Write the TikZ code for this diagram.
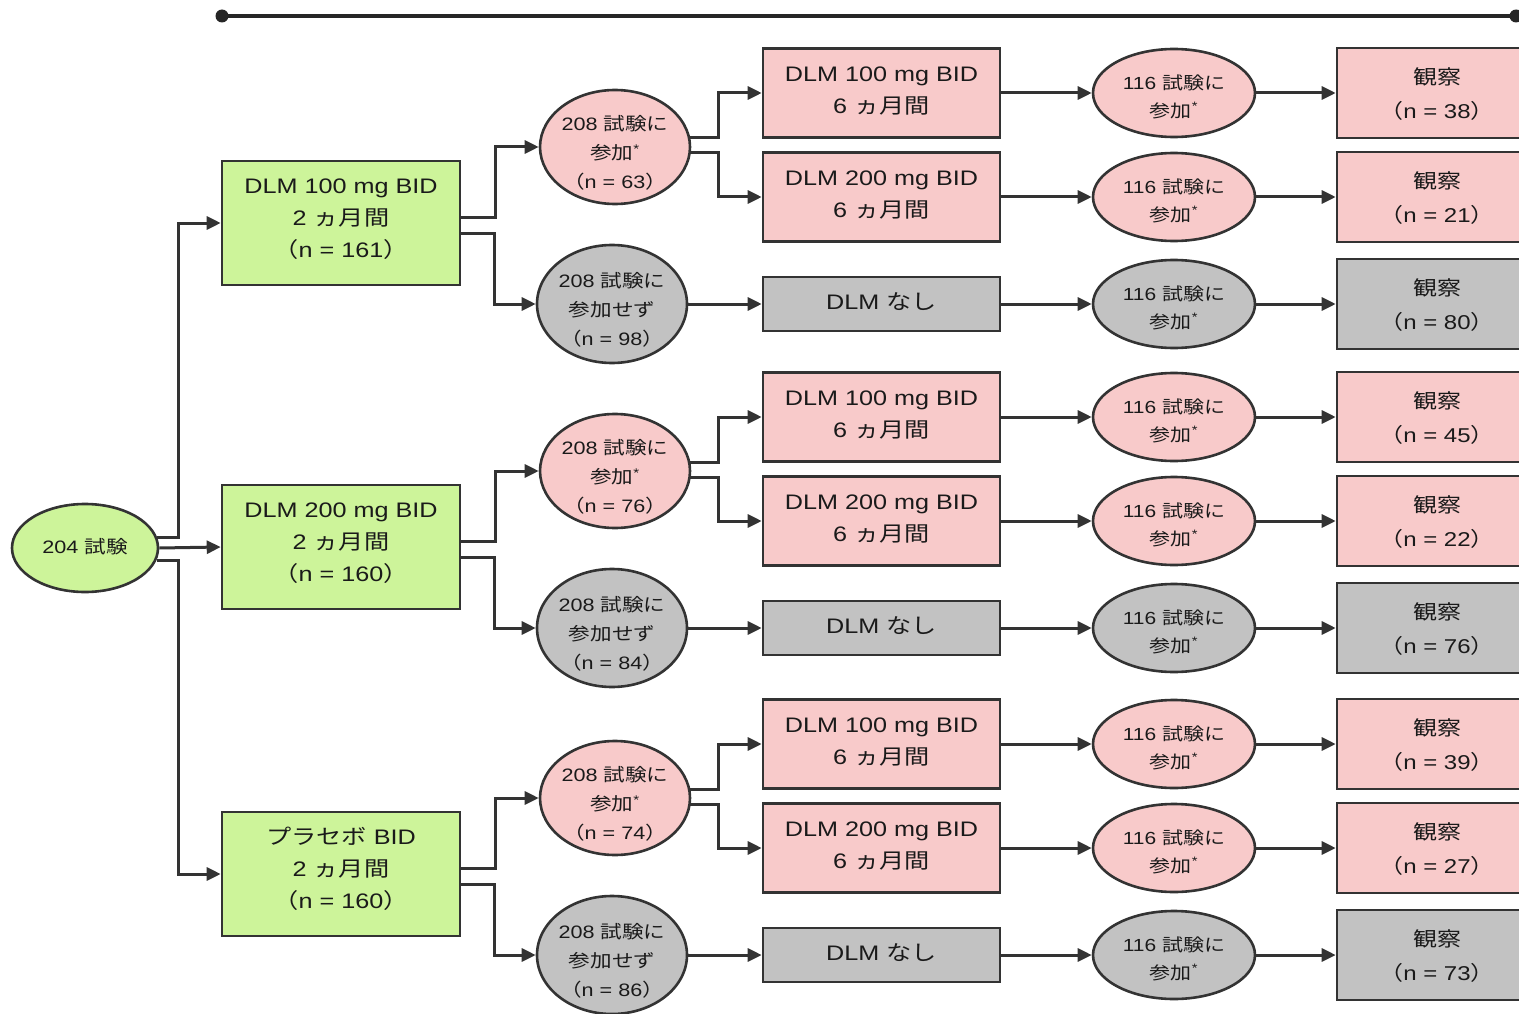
\documentclass[tikz,border=0pt]{standalone}
\usepackage{fontspec}
\setmainfont{Liberation Sans}[FakeStretch=1.2]
\newfontfamily\jp{Noto Sans CJK JP}[FakeStretch=1.2]
\usetikzlibrary{shapes.geometric,arrows.meta}
\definecolor{gfill}{HTML}{CDF49A}
\definecolor{pfill}{HTML}{F8CACA}
\definecolor{gyfill}{HTML}{C2C2C2}
\definecolor{edge}{HTML}{333333}
\definecolor{ink}{HTML}{1A1A1A}
\newcommand{\nt}[2][-0.25em]{\raisebox{#1}[0pt][0pt]{\makebox[0pt]{\begin{tabular}{@{}c@{}}#2\end{tabular}}}}
\newcommand{\lp}{{\jp （}}
\newcommand{\rp}{{\jp ）}}
\newcommand{\placebo}{{\jp プラセボ} BID}
\tikzset{
  base/.style={draw=edge, line width=2.6pt, inner sep=0pt, text=ink},
  gbox/.style={base, rectangle, fill=gfill, minimum width=238pt, minimum height=124pt, font=\fontsize{21}{32}\selectfont},
  startell/.style={base, ellipse, fill=gfill, minimum width=146pt, minimum height=88pt, font=\fontsize{18}{28}\selectfont},
  pell/.style={base, ellipse, fill=pfill, minimum width=150pt, minimum height=114pt, font=\fontsize{18}{29}\selectfont},
  qell/.style={base, ellipse, fill=gyfill, minimum width=150pt, minimum height=118pt, font=\fontsize{18}{29}\selectfont},
  dbox/.style={base, rectangle, fill=pfill, minimum width=237pt, minimum height=89pt, font=\fontsize{21}{32}\selectfont},
  nbox/.style={base, rectangle, fill=gyfill, minimum width=237pt, minimum height=54pt, font=\fontsize{21}{32}\selectfont},
  tell/.style={base, ellipse, minimum width=162pt, minimum height=88pt, font=\fontsize{17.5}{28}\selectfont},
  obox/.style={base, rectangle, minimum width=200pt, minimum height=90pt, font=\fontsize{20}{34}\selectfont},
  conn/.style={draw=edge, line width=3pt, -{Triangle[length=14pt,width=13pt]}},
}
\begin{document}
\begin{tikzpicture}[x=1pt,y=-1pt]
\useasboundingbox (0,0) rectangle (1519,1014);
\fill[white] (0,0) rectangle (1519,1014);
\clip (0,0) rectangle (1519,1014);

% top bar
\coordinate (barL) at (222,16);
\coordinate (barR) at (1516,16);
\draw[line width=3.8pt, black!85] (barL) -- (barR);
\fill[black!85] (barL) circle (6.5pt);
\fill[black!85] (barR) circle (6.5pt);

% start
\node[startell] (s) at (85,548) {\nt{204 {\jp 試験}}};

\foreach \i/\off/\ng/\gl/\np/\nq/\oa/\ob/\oc in {
  1/0/161/DLM 100 mg BID/63/98/38/21/80,
  2/324/160/DLM 200 mg BID/76/84/45/22/76,
  3/651/160/\placebo/74/86/39/27/73}{
  \node[gbox] (g\i) at (341,223+\off) {\nt[-0.07em]{\gl\\2 {\jp ヵ月間}\\\lp n = \ng\rp}};
  \node[pell] (p\i) at (615,147+\off) {\nt[-0.6em]{208 {\jp 試験に}\\{\jp 参加}\textsuperscript{*}\\\lp n = \np\rp}};
  \node[qell] (q\i) at (612,304+\off) {\nt[-0.62em]{208 {\jp 試験に}\\{\jp 参加せず}\\\lp n = \nq\rp}};
  \node[dbox] (a\i) at (881.5,93+\off) {\nt[-0.17em]{DLM 100 mg BID\\6 {\jp ヵ月間}}};
  \node[dbox] (b\i) at (881.5,197+\off) {\nt[-0.17em]{DLM 200 mg BID\\6 {\jp ヵ月間}}};
  \node[nbox] (c\i) at (881.5,304+\off) {\nt[-0.2em]{DLM {\jp なし}}};
  \node[tell, fill=pfill] (ta\i) at (1174,93+\off) {\nt[-0.5em]{116 {\jp 試験に}\\{\jp 参加}\textsuperscript{*}}};
  \node[tell, fill=pfill] (tb\i) at (1174,197+\off) {\nt[-0.5em]{116 {\jp 試験に}\\{\jp 参加}\textsuperscript{*}}};
  \node[tell, fill=gyfill] (tc\i) at (1174,304+\off) {\nt[-0.5em]{116 {\jp 試験に}\\{\jp 参加}\textsuperscript{*}}};
  \node[obox, fill=pfill] (oa\i) at (1437,93+\off) {\nt[-0.35em]{{\jp 観察}\\\lp n = \oa\rp}};
  \node[obox, fill=pfill] (ob\i) at (1437,197+\off) {\nt[-0.35em]{{\jp 観察}\\\lp n = \ob\rp}};
  \node[obox, fill=gyfill] (oc\i) at (1437,304+\off) {\nt[-0.35em]{{\jp 観察}\\\lp n = \oc\rp}};
  % connectors
  \draw[conn] ([yshift=6pt]g\i.east) -| ([xshift=-43pt]p\i.west) -- (p\i.west);
  \draw[conn] ([yshift=-10pt]g\i.east) -| ([xshift=-41pt]q\i.west) -- (q\i.west);
  \draw[conn] ([shift={(-1pt,9pt)}]p\i.east) -| ([xshift=-43pt]a\i.west) -- (a\i.west);
  \draw[conn] ([shift={(-1pt,-6pt)}]p\i.east) -| ([xshift=-43pt]b\i.west) -- (b\i.west);
  \draw[conn] (q\i.east) -- (c\i.west);
  \draw[conn] (a\i.east) -- (ta\i.west);
  \draw[conn] (b\i.east) -- (tb\i.west);
  \draw[conn] (c\i.east) -- (tc\i.west);
  \draw[conn] (ta\i.east) -- (oa\i.west);
  \draw[conn] (tb\i.east) -- (ob\i.west);
  \draw[conn] (tc\i.east) -- (oc\i.west);
}

\draw[conn] ([shift={(-2pt,11pt)}]s.east) -| ([xshift=-42pt]g1.west) -- (g1.west);
\draw[conn] (s.east) -- (g2.west);
\draw[conn] ([shift={(-2pt,-12pt)}]s.east) -| ([xshift=-42pt]g3.west) -- (g3.west);
\end{tikzpicture}
\end{document}
